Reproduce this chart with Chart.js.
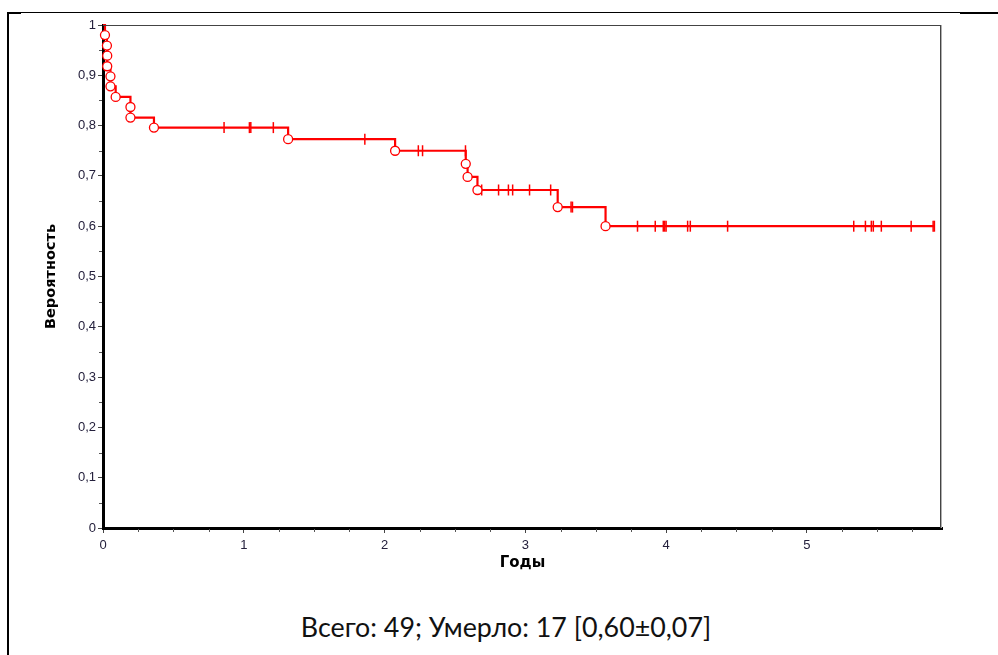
<!DOCTYPE html>
<html>
<head>
<meta charset="utf-8">
<script src="https://cdn.jsdelivr.net/npm/chart.js@4"></script>
<style>
  html, body { margin: 0; padding: 0; background: #fff; }
  body { width: 998px; height: 655px; position: relative; overflow: hidden; }
  #wrap { position: absolute; left: 0; top: 0; width: 998px; height: 600px; }
  .ln { position: absolute; background: #000; }
  #caption { position: absolute; left: 0; width: 1012px; top: 611px; line-height: 32px;
             text-align: center; font-family: Lato, "Open Sans", sans-serif; font-size: 26.8px; color: #111; }
</style>
</head>
<body>
<div class="ln" style="left:7px; top:12px; width:2px; height:643px;"></div>
<div class="ln" style="left:7px; top:12px; width:953px; height:1px;"></div>
<div class="ln" style="left:9px; top:12px; width:12px; height:2px;"></div>
<div class="ln" style="left:960px; top:12px; width:38px; height:2px;"></div>
<div id="wrap"><canvas id="c" width="998" height="600"></canvas></div>
<div id="caption">Всего: 49; Умерло: 17 [0,60±0,07]</div>
<script>
// ---- data ----
const deathTimes = [0.014, 0.028, 0.030, 0.030, 0.053, 0.053, 0.090, 0.195, 0.195, 0.362,
                    1.315, 2.075, 2.577, 2.590, 2.660, 3.230, 3.570];
const deathSurv  = [0.980, 0.959, 0.939, 0.918, 0.898, 0.878, 0.857, 0.837, 0.816, 0.796,
                    0.773, 0.750, 0.724, 0.698, 0.672, 0.638, 0.600];
const censorTimes = [0.860, 1.040, 1.050, 1.210, 1.860, 2.240, 2.270, 2.575, 2.690, 2.810,
                     2.880, 2.910, 3.030, 3.180, 3.325, 3.335, 3.797, 3.923, 3.980, 3.990,
                     4.000, 4.153, 4.172, 4.437, 5.333, 5.416, 5.458, 5.472, 5.529, 5.741,
                     5.897, 5.906];
const censorSurv  = [0.796, 0.796, 0.796, 0.796, 0.773, 0.750, 0.750, 0.750, 0.672, 0.672,
                     0.672, 0.672, 0.672, 0.672, 0.638, 0.638, 0.600, 0.600, 0.600, 0.600,
                     0.600, 0.600, 0.600, 0.600, 0.600, 0.600, 0.600, 0.600, 0.600, 0.600,
                     0.600, 0.600];
const xTickValues = [0, 1, 2, 3, 4, 5];
const xTickLabels = ['0', '1', '2', '3', '4', '5'];
const yTickValues = [0, 0.1, 0.2, 0.3, 0.4, 0.5, 0.6, 0.7, 0.8, 0.9, 1];
const yTickLabels = ['0', '0,1', '0,2', '0,3', '0,4', '0,5', '0,6', '0,7', '0,8', '0,9', '1'];
const xMax = 5.96;
const xTitle = 'Годы';
const yTitle = 'Вероятность';

// ---- build series ----
const deaths = deathTimes.map((t, i) => ({x: t, y: deathSurv[i]}));
const censors = censorTimes.map((t, i) => ({x: t, y: censorSurv[i]}));
const curve = [{x: 0, y: 1}].concat(
  deaths.map(p => ({x: p.x, y: p.y, k: 0})),
  censors.map(p => ({x: p.x, y: p.y, k: 1}))
).sort((a, b) => a.x - b.x || (b.k ?? 0) - (a.k ?? 0));

const RED = '#ff0000';
const TICKCOL = '#24203c';

const frameAndMinor = {
  id: 'frameAndMinor',
  afterDatasetsDraw(chart) {
    const {ctx, chartArea: a, scales: {x, y}} = chart;
    ctx.save();
    ctx.strokeStyle = '#444';
    ctx.lineWidth = 1;
    ctx.beginPath();
    ctx.moveTo(a.left, a.top + 0.5); ctx.lineTo(a.right - 1, a.top + 0.5);
    ctx.moveTo(a.right - 1.5, a.top); ctx.lineTo(a.right - 1.5, a.bottom);
    ctx.stroke();
    ctx.strokeStyle = '#b0b0b0';
    ctx.beginPath();
    ctx.moveTo(a.right - 0.5, a.top); ctx.lineTo(a.right - 0.5, a.bottom);
    ctx.stroke();
    ctx.strokeStyle = '#555';
    ctx.beginPath();
    for (let v = 0.25; v < xMax; v += 0.25) {
      if (Math.abs(v - Math.round(v)) < 1e-6) continue;
      const px = Math.round(x.getPixelForValue(v)) + 0.5;
      ctx.moveTo(px, a.bottom + 1); ctx.lineTo(px, a.bottom + 4);
    }
    for (let v = 0.05; v < 1; v += 0.1) {
      const py = Math.round(y.getPixelForValue(v)) + 0.5;
      ctx.moveTo(a.left - 1, py); ctx.lineTo(a.left - 4, py);
    }
    ctx.stroke();
    ctx.restore();
  }
};

new Chart(document.getElementById('c'), {
  type: 'line',
  data: {
    datasets: [
      { label: 'deaths', data: deaths, showLine: false, pointStyle: 'circle', pointRadius: 4.5,
        pointBorderWidth: 1.3, pointBorderColor: RED, pointBackgroundColor: '#fff', clip: false },
      { label: 'censored', data: censors, showLine: false, pointStyle: 'line', pointRotation: 90,
        pointRadius: 5.5, pointBorderWidth: 1.5, pointBorderColor: RED, pointBackgroundColor: RED, clip: false },
      { label: 'S(t)', data: curve, stepped: true, borderColor: RED, borderWidth: 2.2,
        pointRadius: 0, fill: false, clip: false }
    ]
  },
  options: {
    responsive: false,
    animation: false,
    events: [],
    layout: { padding: { left: 33, top: 25, right: 56, bottom: 600 - 528 - 47 } },
    plugins: { legend: { display: false }, tooltip: { enabled: false } },
    scales: {
      x: {
        type: 'linear', min: 0, max: xMax,
        afterFit(s) { s.height = 47; },
        afterBuildTicks(s) { s.ticks = xTickValues.map(v => ({value: v})); },
        grid: { drawOnChartArea: false, tickLength: 5, tickColor: '#444', tickWidth: 1 },
        border: { color: '#000', width: 3 },
        ticks: { callback: (v, i) => xTickLabels[i], padding: 5, maxRotation: 0,
                 color: TICKCOL, font: { family: 'Liberation Sans, Arial', size: 13 } },
        title: { display: true, text: xTitle, color: '#000', padding: { top: 0, bottom: 3 },
                 font: { family: 'DejaVu Sans', size: 15, weight: 'bold' } }
      },
      y: {
        type: 'linear', min: 0, max: 1,
        afterFit(s) { s.width = 70; },
        afterBuildTicks(s) { s.ticks = yTickValues.map(v => ({value: v})); },
        grid: { drawOnChartArea: false, tickLength: 5, tickColor: '#444', tickWidth: 1 },
        border: { color: '#000', width: 3 },
        ticks: { callback: (v, i) => yTickLabels[i], padding: 2,
                 color: TICKCOL, font: { family: 'Liberation Sans, Arial', size: 13 } },
        title: { display: true, text: yTitle, color: '#000', padding: { top: 10, bottom: 0 },
                 font: { family: 'DejaVu Sans', size: 14.5, weight: 'bold' } }
      }
    }
  },
  plugins: [frameAndMinor]
});
</script>
</body>
</html>
